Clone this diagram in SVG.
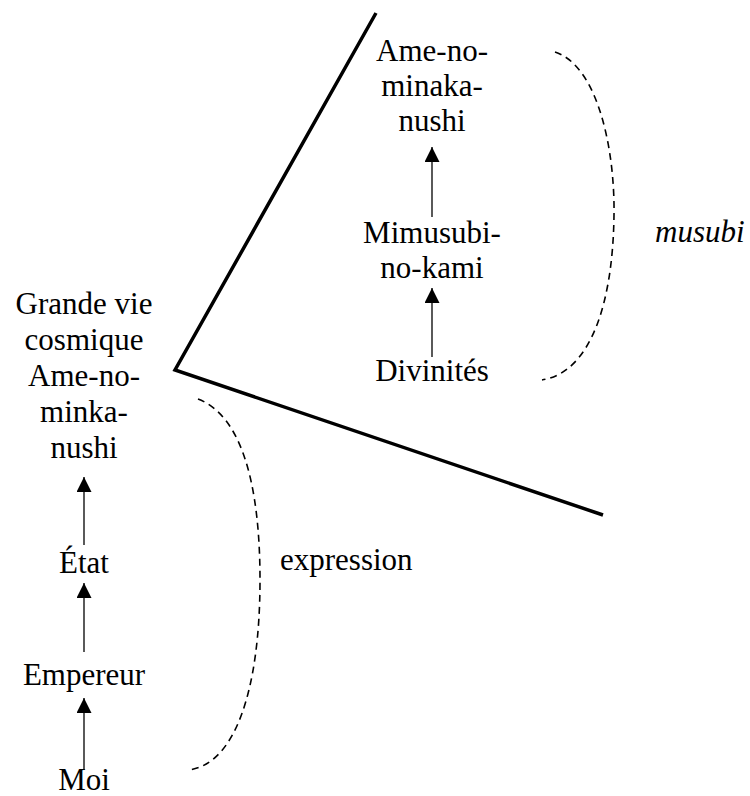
<svg xmlns="http://www.w3.org/2000/svg" width="750" height="796" viewBox="0 0 750 796">
<style>
text{font-family:'Liberation Serif','Times New Roman',Times,'DejaVu Serif',serif;font-size:31px;fill:#000;text-anchor:middle}
.it{font-style:italic;text-anchor:start}
.st{text-anchor:start}
.arr{stroke:#000;stroke-width:1.3;fill:none;marker-end:url(#ah)}
.dash{stroke:#000;stroke-width:1.6;fill:none;stroke-dasharray:7 5}
.thick{stroke:#000;stroke-width:3.5;fill:none;stroke-linejoin:miter}
</style>
<defs>
<marker id="ah" markerUnits="userSpaceOnUse" markerWidth="16" markerHeight="16" refX="15" refY="7.5" orient="auto">
<path d="M0,0 L15,7.5 L0,15 Z" fill="#000"/>
</marker>
</defs>
<g id="connectors">
<polyline class="thick" points="376,13 175,370 603,515"/>
<path class="arr" d="M432,217 L432,147"/>
<path class="arr" d="M432,357 L432,288"/>
<path class="arr" d="M84,545 L84,477"/>
<path class="arr" d="M84,652 L84,583"/>
<path class="arr" d="M84,770 L84,698"/>
<path class="dash" d="M555,52 C598,66 615,150 614,215 C613,300 592,372 542,380"/>
<path class="dash" d="M198,399 C240,415 260,480 260,580 C260,690 235,765 188,770"/>
</g>
<g id="n-ameno-top"><text x="432" y="61">Ame-no-</text><text x="432" y="96">minaka-</text><text x="432" y="131">nushi</text></g>
<g id="n-mimusubi"><text x="432" y="243">Mimusubi-</text><text x="432" y="278">no-kami</text></g>
<g id="n-divinites"><text x="432" y="381">Divinités</text></g>
<g id="n-musubi"><text class="it" x="655" y="242">musubi</text></g>
<g id="n-grande"><text x="84" y="314">Grande vie</text><text x="84" y="350">cosmique</text><text x="84" y="386">Ame-no-</text><text x="84" y="422">minka-</text><text x="84" y="458">nushi</text></g>
<g id="n-etat"><text x="84" y="573">État</text></g>
<g id="n-empereur"><text x="84" y="685">Empereur</text></g>
<g id="n-moi"><text x="84" y="790">Moi</text></g>
<g id="n-expression"><text class="st" x="280" y="570">expression</text></g>
</svg>
